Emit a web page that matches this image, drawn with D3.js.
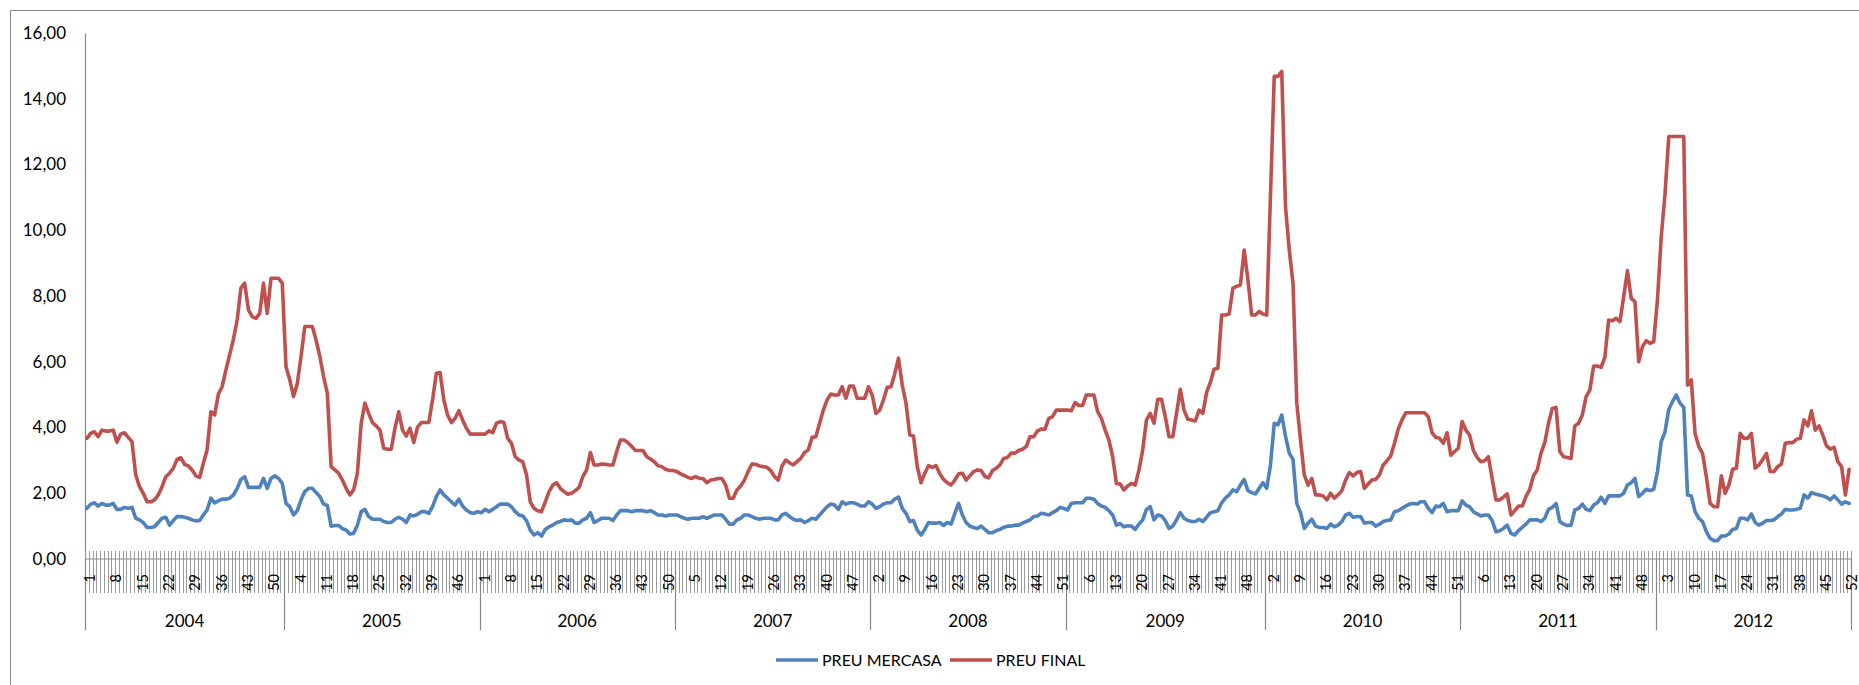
<!DOCTYPE html>
<html>
<head>
<meta charset="utf-8">
<script src="https://cdn.jsdelivr.net/npm/d3@7"></script>
<style>
  html, body { margin: 0; padding: 0; background: #fff; }
  svg { display: block; font-family: Lato, "Open Sans", sans-serif; }
</style>
</head>
<body>
<svg id="chart" width="1859" height="685"></svg>
<script>
// ---------------- DATA ----------------
const years = ["2004","2005","2006","2007","2008","2009","2010","2011","2012"];
const weeksPerYear = [53, 52, 52, 52, 52, 53, 52, 52, 52];
const yTicks = [0, 2, 4, 6, 8, 10, 12, 14, 16];
const seriesNames = ["PREU MERCASA", "PREU FINAL"];

const preuMercasa = [
  // 2004
  1.54,1.67,1.71,1.61,1.69,1.64,1.64,1.69,1.51,1.51,1.57,1.54,1.57,1.24,1.19,1.11,0.96,0.96,0.98,1.11,
  1.24,1.27,1.03,1.17,1.29,1.29,1.27,1.24,1.19,1.16,1.17,1.34,1.49,1.85,1.71,1.77,1.82,1.82,1.85,1.95,
  2.15,2.42,2.50,2.18,2.18,2.18,2.18,2.45,2.15,2.45,2.53,2.45,2.30,
  // 2005
  1.69,1.59,1.34,1.47,1.80,2.05,2.15,2.15,2.02,1.90,1.67,1.63,1.00,1.02,1.02,0.92,0.88,0.76,0.78,1.03,
  1.44,1.51,1.29,1.21,1.21,1.21,1.14,1.11,1.11,1.21,1.27,1.21,1.11,1.34,1.31,1.36,1.44,1.44,1.39,1.59,
  1.90,2.10,1.95,1.85,1.74,1.64,1.82,1.61,1.49,1.41,1.39,1.44,
  // 2006
  1.41,1.51,1.44,1.51,1.59,1.67,1.67,1.67,1.59,1.44,1.34,1.31,1.17,0.88,0.73,0.80,0.70,0.90,0.98,1.03,
  1.11,1.14,1.19,1.17,1.19,1.09,1.09,1.19,1.24,1.41,1.11,1.17,1.24,1.24,1.24,1.17,1.34,1.47,1.47,1.47,
  1.44,1.47,1.47,1.47,1.44,1.47,1.41,1.34,1.34,1.31,1.34,1.34,
  // 2007
  1.34,1.29,1.24,1.21,1.24,1.24,1.24,1.29,1.24,1.29,1.34,1.34,1.34,1.21,1.06,1.06,1.19,1.24,1.34,1.34,
  1.29,1.24,1.21,1.24,1.24,1.24,1.19,1.19,1.34,1.39,1.29,1.21,1.17,1.19,1.11,1.17,1.24,1.21,1.34,1.47,
  1.59,1.67,1.64,1.51,1.74,1.67,1.71,1.71,1.67,1.61,1.61,1.74,
  // 2008
  1.67,1.54,1.59,1.67,1.71,1.71,1.82,1.88,1.54,1.39,1.14,1.17,0.88,0.73,0.90,1.11,1.09,1.09,1.11,1.02,
  1.11,1.06,1.39,1.69,1.34,1.11,1.00,0.96,0.93,1.00,0.90,0.80,0.80,0.86,0.90,0.96,1.00,1.00,1.03,1.03,
  1.09,1.14,1.19,1.29,1.31,1.39,1.37,1.34,1.41,1.47,1.57,1.54,
  // 2009
  1.49,1.69,1.71,1.71,1.71,1.85,1.85,1.82,1.69,1.61,1.57,1.47,1.34,1.03,1.08,0.98,1.01,1.00,0.90,1.06,
  1.19,1.51,1.59,1.19,1.34,1.31,1.17,0.93,1.00,1.19,1.41,1.24,1.17,1.14,1.14,1.21,1.14,1.27,1.41,1.44,
  1.47,1.71,1.85,1.95,2.10,2.05,2.25,2.42,2.08,2.02,1.98,2.15,2.32,
  // 2010
  2.15,2.86,4.13,4.08,4.38,3.74,3.22,3.03,1.69,1.41,0.93,1.09,1.21,1.00,0.96,0.96,0.93,1.06,0.98,1.03,
  1.14,1.34,1.39,1.27,1.29,1.29,1.09,1.11,1.11,1.00,1.06,1.14,1.17,1.19,1.44,1.47,1.54,1.61,1.67,1.69,
  1.67,1.74,1.74,1.54,1.41,1.61,1.59,1.69,1.44,1.47,1.47,1.47,
  // 2011
  1.77,1.64,1.59,1.44,1.37,1.31,1.34,1.34,1.17,0.83,0.86,0.93,1.03,0.78,0.73,0.86,0.96,1.06,1.19,1.19,
  1.19,1.14,1.24,1.51,1.57,1.69,1.14,1.06,1.02,1.03,1.49,1.54,1.67,1.51,1.47,1.64,1.71,1.88,1.69,1.92,
  1.92,1.92,1.92,2.00,2.25,2.32,2.45,1.90,2.00,2.12,2.08,2.12,
  // 2012
  2.66,3.57,3.87,4.55,4.79,4.99,4.74,4.61,1.95,1.92,1.44,1.24,1.14,0.83,0.63,0.56,0.56,0.70,0.70,0.76,
  0.90,0.93,1.24,1.24,1.19,1.37,1.11,1.03,1.09,1.17,1.17,1.19,1.29,1.37,1.51,1.49,1.49,1.51,1.54,1.95,
  1.85,2.02,1.98,1.95,1.92,1.88,1.80,1.92,1.80,1.67,1.74,1.69
];

const preuFinal = [
  // 2004
  3.67,3.82,3.87,3.72,3.92,3.89,3.89,3.92,3.55,3.80,3.84,3.70,3.57,2.56,2.20,2.00,1.74,1.74,1.80,1.95,
  2.20,2.50,2.61,2.76,3.03,3.08,2.88,2.83,2.71,2.53,2.48,2.91,3.32,4.48,4.38,5.02,5.24,5.75,6.21,6.69,
  7.27,8.24,8.39,7.58,7.37,7.32,7.47,8.39,7.47,8.54,8.54,8.54,8.39,
  // 2005
  5.85,5.45,4.94,5.34,6.16,7.07,7.07,7.07,6.66,6.16,5.55,5.04,2.81,2.71,2.61,2.40,2.15,1.95,2.10,2.61,
  4.13,4.74,4.43,4.15,4.05,3.92,3.37,3.34,3.34,3.98,4.48,3.92,3.74,3.98,3.54,4.01,4.15,4.15,4.15,4.84,
  5.65,5.67,4.84,4.38,4.15,4.28,4.51,4.23,3.98,3.80,3.80,3.80,
  // 2006
  3.80,3.80,3.90,3.84,4.13,4.18,4.15,3.67,3.52,3.11,3.01,2.96,2.56,1.74,1.54,1.47,1.44,1.74,2.05,2.25,
  2.32,2.15,2.05,1.97,2.00,2.08,2.18,2.51,2.71,3.24,2.86,2.86,2.89,2.88,2.86,2.86,3.27,3.62,3.62,3.54,
  3.42,3.30,3.30,3.30,3.11,3.04,2.96,2.84,2.81,2.73,2.69,2.69,
  // 2007
  2.66,2.59,2.54,2.48,2.45,2.51,2.45,2.45,2.32,2.40,2.42,2.45,2.45,2.25,1.85,1.85,2.10,2.22,2.40,2.66,
  2.89,2.88,2.83,2.81,2.79,2.69,2.51,2.40,2.83,3.01,2.93,2.86,2.96,3.06,3.24,3.32,3.70,3.72,4.13,4.53,
  4.84,5.02,4.99,4.99,5.24,4.89,5.26,5.26,4.89,4.89,4.89,5.24,
  // 2008
  4.99,4.43,4.53,4.84,5.22,5.24,5.63,6.11,5.29,4.74,3.77,3.74,2.81,2.32,2.61,2.84,2.79,2.84,2.59,2.42,
  2.32,2.25,2.40,2.59,2.61,2.40,2.53,2.66,2.71,2.69,2.51,2.47,2.69,2.76,2.86,3.06,3.09,3.22,3.22,3.30,
  3.34,3.42,3.72,3.72,3.90,3.95,3.95,4.28,4.33,4.53,4.53,4.53,
  // 2009
  4.53,4.51,4.76,4.67,4.67,4.99,4.99,4.99,4.48,4.28,3.92,3.62,3.11,2.30,2.28,2.10,2.22,2.30,2.25,2.71,
  3.32,4.23,4.43,4.13,4.86,4.86,4.33,3.72,3.72,4.43,5.16,4.53,4.25,4.23,4.20,4.53,4.43,5.06,5.37,5.77,
  5.80,7.42,7.42,7.45,8.24,8.29,8.34,9.40,8.49,7.42,7.42,7.53,7.45,
  // 2010
  7.42,11.05,14.68,14.68,14.83,10.72,9.40,8.39,4.74,3.62,2.56,2.25,2.45,1.95,1.95,1.92,1.80,2.00,1.85,1.95,
  2.08,2.40,2.63,2.53,2.63,2.66,2.15,2.28,2.40,2.42,2.56,2.86,2.99,3.13,3.52,3.95,4.23,4.45,4.45,4.45,
  4.45,4.45,4.45,4.33,3.84,3.70,3.67,3.52,3.84,3.16,3.27,3.37,
  // 2011
  4.18,3.92,3.77,3.30,3.09,2.96,2.99,3.11,2.45,1.80,1.80,1.88,1.98,1.34,1.47,1.61,1.61,1.90,2.12,2.53,
  2.71,3.22,3.54,4.13,4.58,4.61,3.27,3.11,3.09,3.06,4.05,4.13,4.38,4.94,5.14,5.87,5.87,5.83,6.14,7.27,
  7.25,7.32,7.22,7.98,8.77,7.93,7.83,6.00,6.46,6.64,6.56,6.61,
  // 2012
  7.90,9.80,11.10,12.85,12.85,12.85,12.85,12.85,5.29,5.45,3.82,3.42,3.21,2.50,1.69,1.59,1.59,2.53,2.00,2.25,
  2.73,2.76,3.82,3.67,3.67,3.82,2.76,2.86,3.03,3.21,2.66,2.66,2.81,2.89,3.52,3.54,3.54,3.64,3.67,4.23,
  4.05,4.51,3.92,4.05,3.77,3.44,3.34,3.40,2.96,2.81,1.95,2.73
];

// ---------------- BUILD CATEGORIES ----------------
const cats = [];
const yearSpans = [];
years.forEach((yr, k) => {
  const start = cats.length;
  for (let w = 1; w <= weeksPerYear[k]; w++) cats.push({ i: cats.length, year: yr, week: w });
  yearSpans.push({ year: yr, start, end: cats.length });
});
const N = cats.length;

// ---------------- LAYOUT ----------------
const svg = d3.select("#chart");
const pL = 85, pR = 1851, pT = 33, pB = 559;

const x = d3.scaleBand().domain(d3.range(N)).range([pL, pR]).padding(0);
const bw = x.bandwidth();
const cx = i => x(i) + bw / 2;
const edge = i => (i >= N ? pR : x(i));
const y = d3.scaleLinear().domain([0, 16]).range([pB, pT]);

const axisColor = "#878787";

// outer chart border
svg.append("rect")
  .attr("x", 10.5).attr("y", 10.5)
  .attr("width", 1900).attr("height", 700)
  .attr("fill", "none").attr("stroke", "#8c8c8c").attr("stroke-width", 1);

// Y axis
const yAxis = d3.axisLeft(y)
  .tickValues(yTicks)
  .tickSize(0)
  .tickPadding(19)
  .tickFormat(d => d3.format(".2f")(d).replace(".", ","));
const gy = svg.append("g").attr("transform", `translate(${pL},0)`).call(yAxis);
gy.select(".domain").attr("stroke", axisColor).attr("stroke-width", 1.2);
gy.selectAll("text").attr("font-size", 17).attr("fill", "#000")
  .attr("font-family", "Lato, sans-serif");

// X axis category tick lines (every category boundary)
const gx = svg.append("g");
gx.selectAll("line.tk")
  .data(d3.range(N + 1))
  .join("line")
  .attr("class", "tk")
  .attr("x1", i => Math.round(edge(i)) + 0.5)
  .attr("x2", i => Math.round(edge(i)) + 0.5)
  .attr("y1", pB - 8).attr("y2", 593)
  .attr("stroke", "#9a9a9a").attr("stroke-width", 1);

// year separators
gx.selectAll("line.ysep")
  .data(yearSpans.map(s => s.start).concat([N]))
  .join("line")
  .attr("class", "ysep")
  .attr("x1", i => Math.round(edge(i)) + 0.5)
  .attr("x2", i => Math.round(edge(i)) + 0.5)
  .attr("y1", pB).attr("y2", 630)
  .attr("stroke", axisColor).attr("stroke-width", 1.2);

// x axis baseline
gx.append("line")
  .attr("x1", pL).attr("x2", pR)
  .attr("y1", pB).attr("y2", pB)
  .attr("stroke", axisColor).attr("stroke-width", 1.2);

// week labels (every 7th category), rotated
gx.selectAll("text.wk")
  .data(cats.filter(c => c.i % 7 === 0))
  .join("text")
  .attr("class", "wk")
  .attr("transform", c => `translate(${cx(c.i) + 3},574) rotate(-90)`)
  .attr("text-anchor", "end")
  .attr("dy", "0.36em")
  .attr("font-size", 14.5)
  .attr("fill", "#000")
  .text(c => c.week);

// year labels
gx.selectAll("text.yr")
  .data(yearSpans)
  .join("text")
  .attr("class", "yr")
  .attr("x", s => (edge(s.start) + edge(s.end)) / 2)
  .attr("y", 627)
  .attr("text-anchor", "middle")
  .attr("font-size", 17)
  .attr("fill", "#000")
  .text(s => s.year);

// ---------------- LINES ----------------
const colors = ["#4F81BD", "#C0504D"];
const seriesData = [preuMercasa, preuFinal];
const line = d3.line().x((d, i) => cx(i)).y(d => y(d));

svg.append("g").selectAll("path")
  .data(seriesData)
  .join("path")
  .attr("d", d => line(d))
  .attr("fill", "none")
  .attr("stroke", (d, k) => colors[k])
  .attr("stroke-width", 3.6)
  .attr("stroke-linejoin", "round")
  .attr("stroke-linecap", "round");

// ---------------- LEGEND ----------------
const legendY = 660;
const legendItems = [
  { name: seriesNames[0], color: colors[0], x: 776 },
  { name: seriesNames[1], color: colors[1], x: 950 }
];
const lg = svg.append("g").selectAll("g").data(legendItems).join("g")
  .attr("transform", d => `translate(${d.x},${legendY})`);
lg.append("line").attr("x1", 0).attr("x2", 42).attr("y1", 0).attr("y2", 0)
  .attr("stroke", d => d.color).attr("stroke-width", 3.6);
lg.append("text").attr("x", 46).attr("y", 0).attr("dy", "0.35em")
  .attr("font-size", 16).attr("fill", "#000")
  .text(d => d.name);
</script>
</body>
</html>
